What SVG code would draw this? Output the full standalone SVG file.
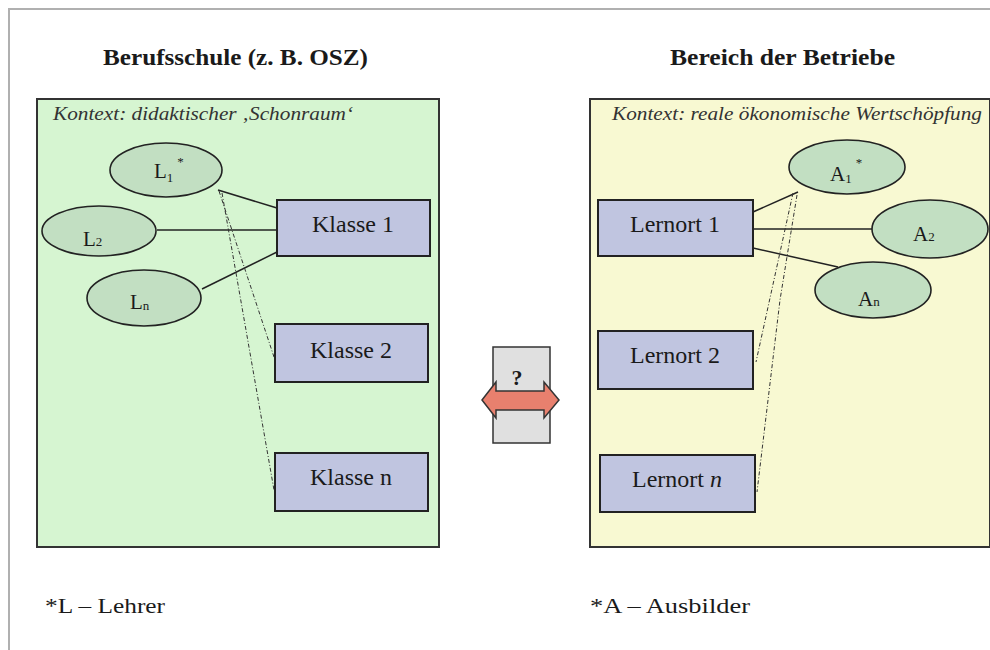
<svg xmlns="http://www.w3.org/2000/svg" width="990" height="650" viewBox="0 0 990 650">
<style>
text{font-family:"Liberation Serif","Times New Roman",serif;fill:#1a1a1a}
.title{font-size:24px;font-weight:bold}
.ctx{font-size:18px;font-style:italic;fill:#333}
.box{fill:#c0c5e0;stroke:#222;stroke-width:2}
.ell{fill:#c2dfc2;stroke:#222;stroke-width:1.6}
.lbl{font-size:24px;text-anchor:middle}
.el{font-size:21px}
.sub{font-size:13px}
.ln{stroke:#222;stroke-width:1.5;fill:none}
.dl{stroke:#333;stroke-width:1;fill:none;stroke-dasharray:4 2 1 2}
.foot{font-size:22px}
</style>
<g id="frame">
<path d="M9,650 V9 H990" fill="none" stroke="#b0b0b0" stroke-width="2"/>
</g>
<g id="titles">
<text class="title" x="103" y="65" textLength="265" lengthAdjust="spacingAndGlyphs">Berufsschule (z. B. OSZ)</text>
<text class="title" x="670" y="65" textLength="225" lengthAdjust="spacingAndGlyphs">Bereich der Betriebe</text>
</g>
<g id="berufsschule">
<rect x="37" y="99" width="402" height="448" fill="#d6f5d1" stroke="#333" stroke-width="2"/>
<text class="ctx" x="53" y="120" textLength="300" lengthAdjust="spacingAndGlyphs">Kontext: didaktischer ‚Schonraum‘</text>
</g>
<g id="betriebe">
<rect x="590" y="99" width="400" height="448" fill="#f8f9d2" stroke="#333" stroke-width="2"/>
<text class="ctx" x="612" y="120" textLength="370" lengthAdjust="spacingAndGlyphs">Kontext: reale ökonomische Wertschöpfung</text>
</g>
<g id="connectors">
<line class="ln" x1="218" y1="190" x2="277" y2="208"/>
<line class="ln" x1="157" y1="230" x2="280" y2="230"/>
<line class="ln" x1="202" y1="289" x2="277" y2="252"/>
<path class="dl" d="M219,191 L275,360"/>
<path class="dl" d="M222,193 L274,490"/>
<line class="ln" x1="753" y1="212" x2="798" y2="192"/>
<line class="ln" x1="753" y1="229" x2="872" y2="229"/>
<line class="ln" x1="753" y1="248" x2="838" y2="267"/>
<path class="dl" d="M793,193 L756,362"/>
<path class="dl" d="M797,195 L780,300 L757,492"/>
</g>
<g id="L1">
<ellipse class="ell" cx="166" cy="170" rx="56" ry="27"/>
<text class="el" x="154" y="178">L<tspan class="sub" dy="4">1</tspan><tspan class="sub" dy="-16" dx="4">*</tspan></text>
</g>
<g id="L2">
<ellipse class="ell" cx="99" cy="231" rx="57" ry="25"/>
<text class="el" x="83" y="246">L<tspan class="sub" dy="0">2</tspan></text>
</g>
<g id="Ln">
<ellipse class="ell" cx="144" cy="298" rx="57" ry="28"/>
<text class="el" x="130" y="309">L<tspan class="sub" dy="1">n</tspan></text>
</g>
<g id="klasse1">
<rect class="box" x="277" y="200" width="153" height="56"/>
<text class="lbl" x="353" y="232">Klasse 1</text>
</g>
<g id="klasse2">
<rect class="box" x="275" y="324" width="153" height="58"/>
<text class="lbl" x="351" y="358">Klasse 2</text>
</g>
<g id="klassen">
<rect class="box" x="275" y="453" width="153" height="58"/>
<text class="lbl" x="351" y="485">Klasse n</text>
</g>
<g id="A1">
<ellipse class="ell" cx="847" cy="167" rx="58" ry="27"/>
<text class="el" x="830" y="181">A<tspan class="sub" dy="2">1</tspan><tspan class="sub" dy="-16" dx="4">*</tspan></text>
</g>
<g id="A2">
<ellipse class="ell" cx="930" cy="229" rx="58" ry="29"/>
<text class="el" x="913" y="241">A<tspan class="sub" dy="0">2</tspan></text>
</g>
<g id="An">
<ellipse class="ell" cx="873" cy="290" rx="58" ry="28"/>
<text class="el" x="858" y="306">A<tspan class="sub" dy="0">n</tspan></text>
</g>
<g id="lernort1">
<rect class="box" x="598" y="200" width="155" height="56"/>
<text class="lbl" x="675" y="232">Lernort 1</text>
</g>
<g id="lernort2">
<rect class="box" x="598" y="331" width="155" height="58"/>
<text class="lbl" x="675" y="363">Lernort 2</text>
</g>
<g id="lernortn">
<rect class="box" x="600" y="455" width="155" height="57"/>
<text class="lbl" x="677" y="487">Lernort <tspan font-style="italic">n</tspan></text>
</g>
<g id="exchange">
<rect x="493" y="347" width="57" height="96" fill="#e0e0e0" stroke="#333" stroke-width="1.5"/>
<text x="517" y="385" font-size="22" font-weight="bold" text-anchor="middle">?</text>
<path d="M482,400 L496,382 L496,391 L544,391 L544,382 L559,400 L544,418 L544,410 L496,410 L496,418 Z" fill="#e8806e" stroke="#333" stroke-width="1.5"/>
</g>
<g id="footnotes">
<text class="foot" x="45" y="613" textLength="120" lengthAdjust="spacingAndGlyphs">*L – Lehrer</text>
<text class="foot" x="590" y="613" textLength="160" lengthAdjust="spacingAndGlyphs">*A – Ausbilder</text>
</g>
</svg>
